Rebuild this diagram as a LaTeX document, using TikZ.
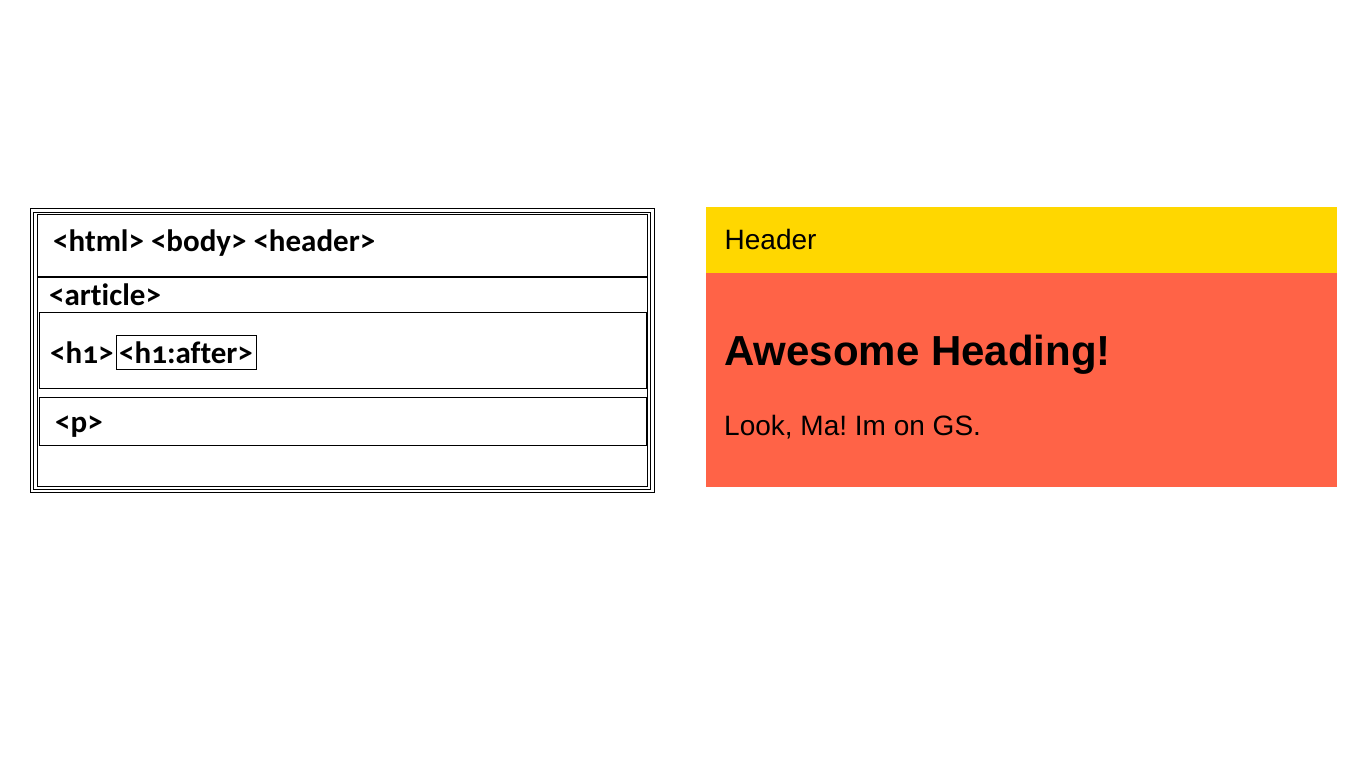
\documentclass[tikz,border=0pt]{standalone}
\usepackage{fontspec}
\setmainfont{Liberation Sans}
\newfontfamily\calfont[Numbers=OldStyle,Ligatures={NoCommon}]{Carlito}
\definecolor{goldhdr}{HTML}{FFD700}
\definecolor{tomatobody}{HTML}{FF6347}
\frenchspacing
\begin{document}
\begin{tikzpicture}[x=1pt,y=-1pt,
  frame/.style={draw=black,line width=1pt,inner sep=0pt,outer sep=0pt,anchor=north west},
  tagtext/.style={inner sep=0pt,anchor=base west,font=\calfont\bfseries\fontsize{31}{31}\selectfont},
  sanstext/.style={inner sep=0pt,anchor=base west,font=\fontsize{28}{28}\selectfont},
  fillbox/.style={inner sep=0pt,outer sep=0pt,anchor=north west,draw=none}]
\useasboundingbox[fill=white] (0,0) rectangle (1366,768);
% left: box model
\node[frame,minimum width=624pt,minimum height=284pt] (outer) at (30,208.5) {};
\node[frame,minimum width=617pt,minimum height=277pt] (middle) at (33.8,212) {};
\node[frame,minimum width=610pt,minimum height=272pt] (inner) at (37.2,214.5) {};
\coordinate (divl) at (37.2,276.7);
\coordinate (divr) at (647.2,276.7);
\draw[line width=2pt] (divl) -- (divr);
\node[frame,minimum width=607pt,minimum height=76pt] (h1box) at (39.3,312.3) {};
\node[frame,minimum width=607pt,minimum height=48pt] (pbox) at (39.3,397.3) {};
\node[frame,minimum width=140pt,minimum height=34pt] (afterbox) at (116,335) {};
\node[tagtext] (t1) at (53,251) {<html> <body> <header>};
\node[tagtext] (t2) at (49,305) {<article>};
\node[tagtext] (t3) at (50,363) {<h1>};
\node[tagtext] (t4) at (119,363) {<h1:after>};
\node[tagtext] (t5) at (55,432) {<p>};
% right: rendered page
\node[fillbox,fill=goldhdr,minimum width=631pt,minimum height=66.6pt] (hdr) at (706,206.7) {};
\node[fillbox,fill=tomatobody,minimum width=631pt,minimum height=214pt] (art) at (706,273.3) {};
\node[sanstext] (r1) at (724.5,249.5) {Header};
\node[inner sep=0pt,anchor=base west,font=\bfseries\fontsize{42}{42}\selectfont] (r2) at (724,365) {Awesome Heading!};
\node[sanstext] (r3) at (724,435) {Look, Ma! Im on GS.};
\end{tikzpicture}
\end{document}
